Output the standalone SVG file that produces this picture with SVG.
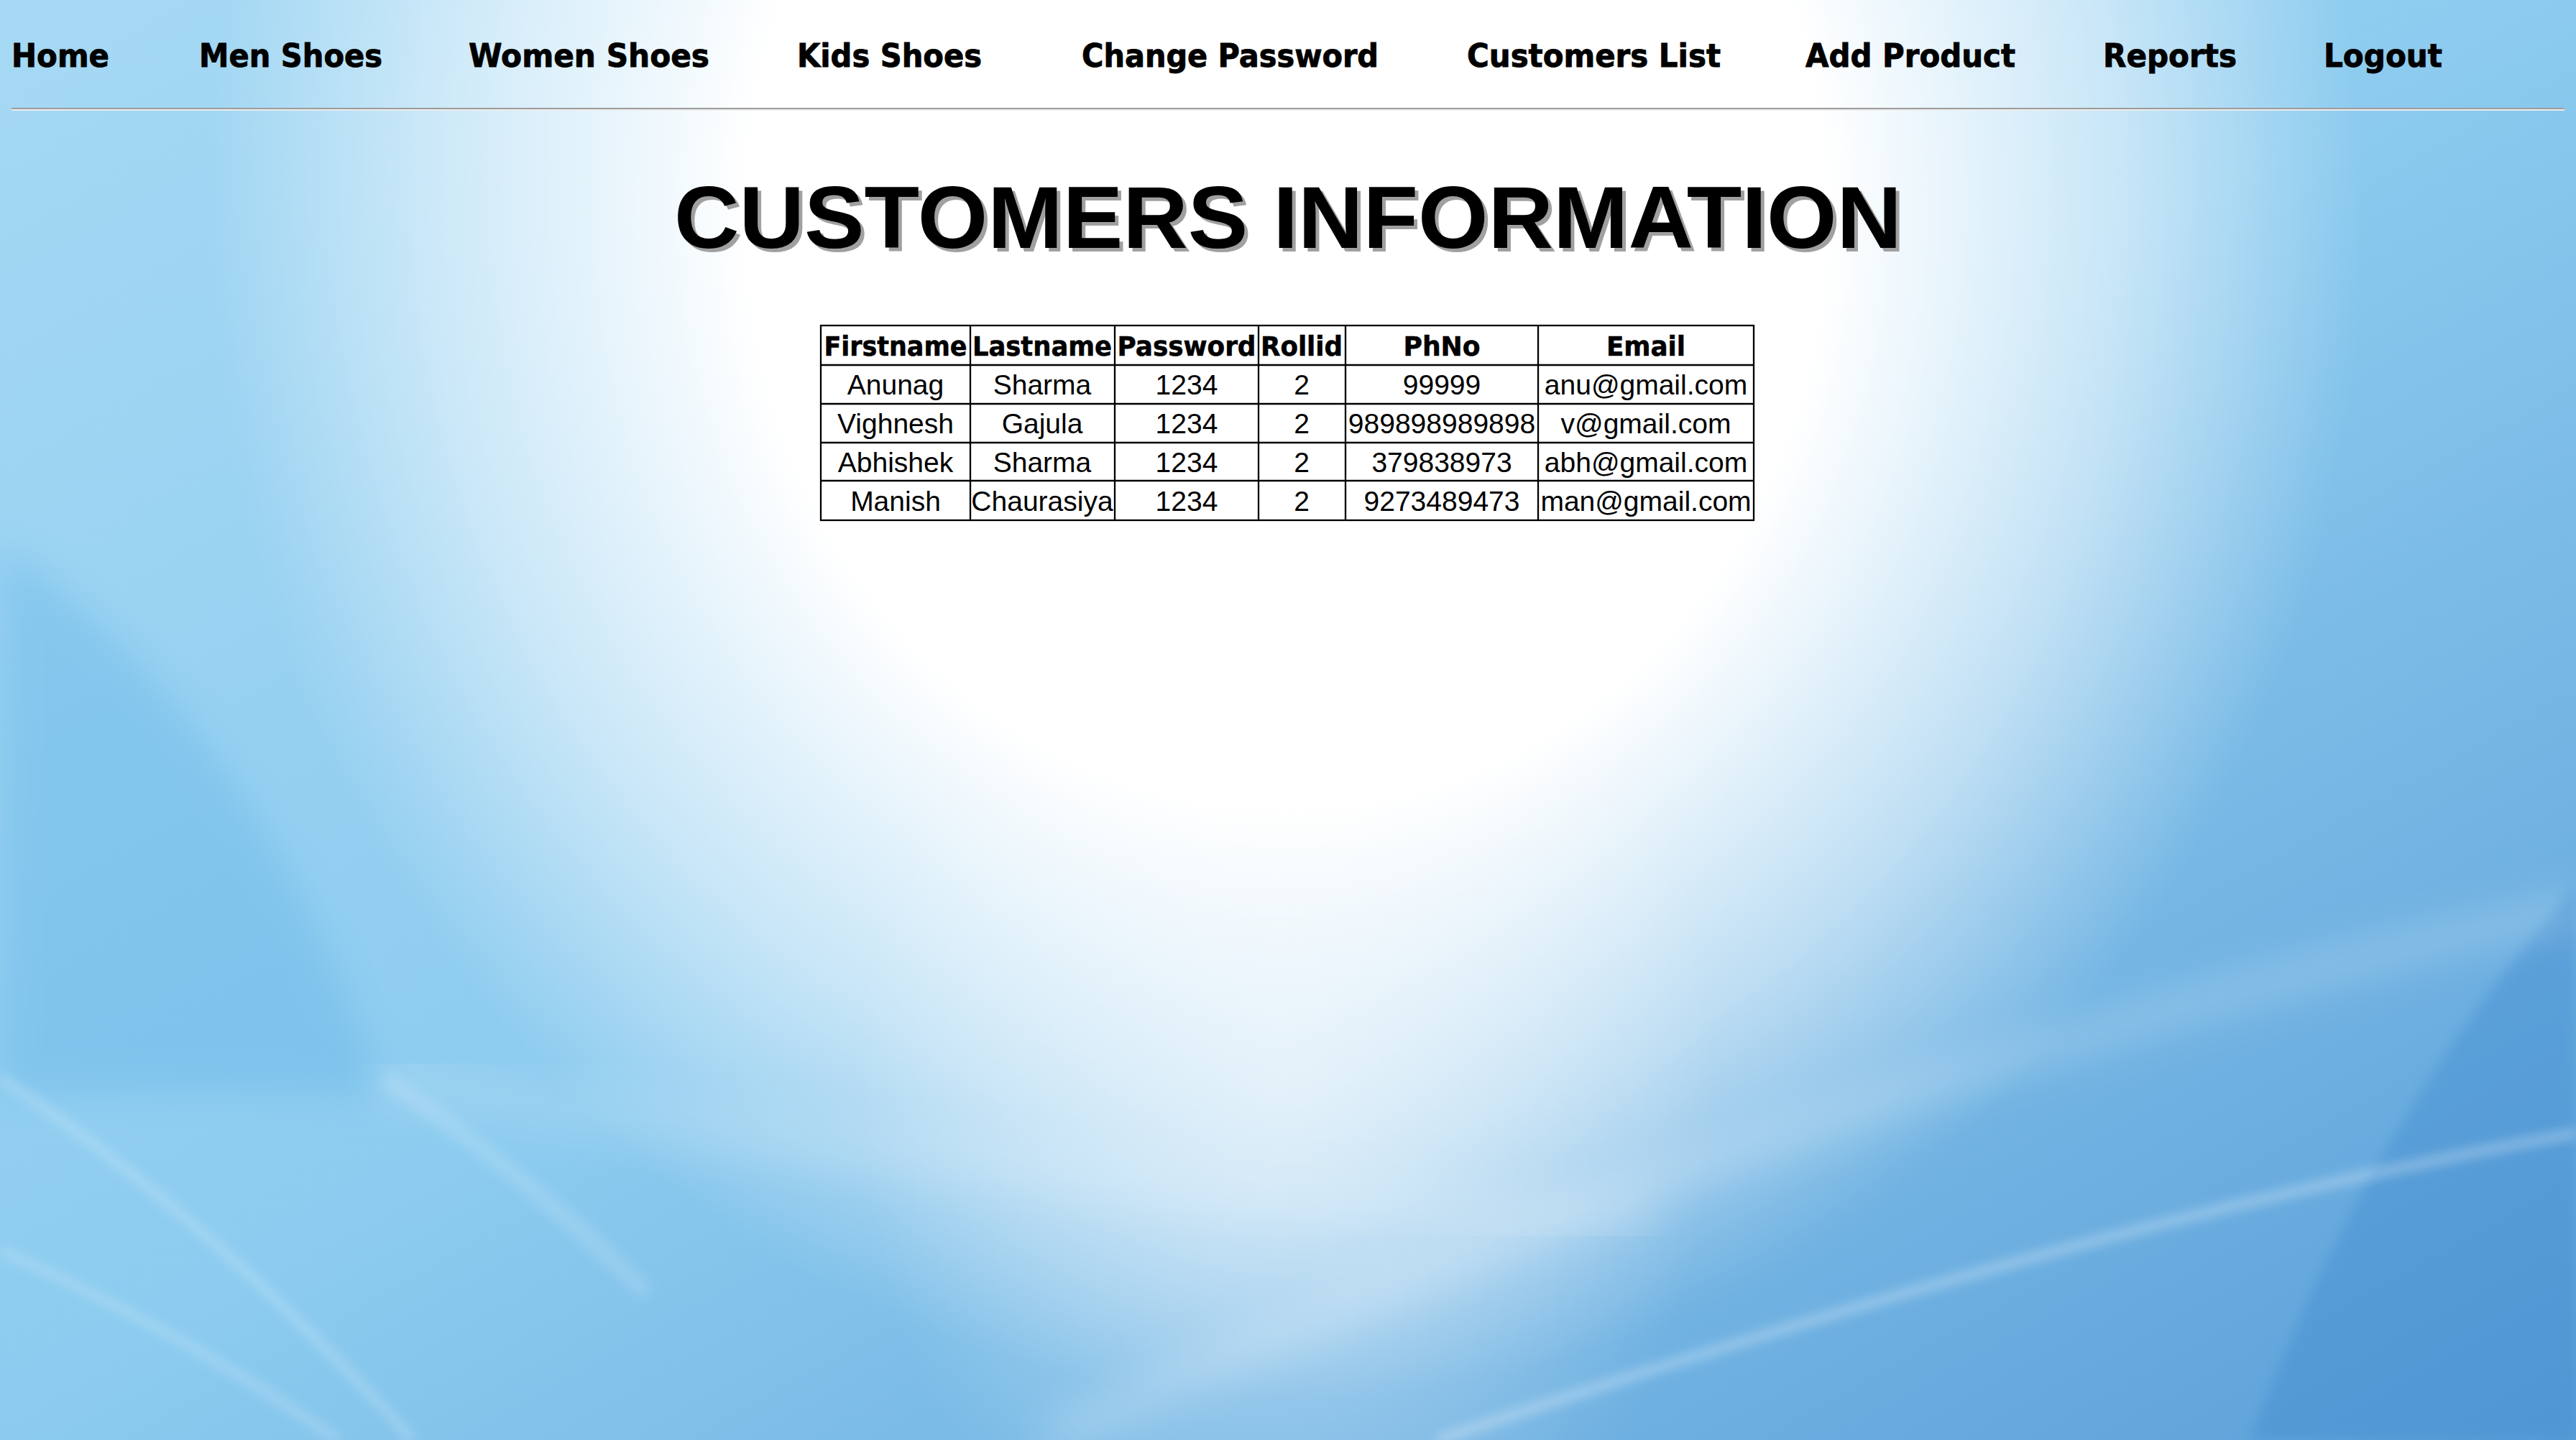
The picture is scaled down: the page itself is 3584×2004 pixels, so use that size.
<svg xmlns="http://www.w3.org/2000/svg" width="3584" height="2004" viewBox="0 0 3584 2004">
<defs>
<linearGradient id="base" x1="0" y1="0" x2="1" y2="1">
<stop offset="0" stop-color="#a6d9f4"/>
<stop offset="0.5" stop-color="#8ccbef"/>
<stop offset="1" stop-color="#5b9fd8"/>
</linearGradient>
<radialGradient id="glow" gradientUnits="userSpaceOnUse" cx="1790" cy="300" r="1500" gradientTransform="translate(1790 300) scale(1 1.1) translate(-1790 -300)">
<stop offset="0" stop-color="#ffffff" stop-opacity="1"/>
<stop offset="0.5" stop-color="#ffffff" stop-opacity="1"/>
<stop offset="0.78" stop-color="#ffffff" stop-opacity="0.5"/>
<stop offset="1" stop-color="#ffffff" stop-opacity="0"/>
</radialGradient>
<radialGradient id="glow2" gradientUnits="userSpaceOnUse" cx="1790" cy="1500" r="800" gradientTransform="translate(1790 1500) scale(0.75 1) translate(-1790 -1500)">
<stop offset="0" stop-color="#ffffff" stop-opacity="0.5"/>
<stop offset="1" stop-color="#ffffff" stop-opacity="0"/>
</radialGradient>
<filter id="soft" x="-10%" y="-10%" width="120%" height="120%">
<feGaussianBlur stdDeviation="8"/>
</filter>
<filter id="soft2" x="-10%" y="-10%" width="120%" height="120%">
<feGaussianBlur stdDeviation="25"/>
</filter>
</defs>
<style>
.nav{font-family:"DejaVu Sans","Liberation Sans",sans-serif;font-weight:bold;font-size:45px;fill:#000;stroke:#000;stroke-width:0.9}
.th{font-family:"DejaVu Sans","Liberation Sans",sans-serif;font-weight:bold;font-size:37px;fill:#000;text-anchor:middle;stroke:#000;stroke-width:0.6}
.td{font-family:"Liberation Sans","DejaVu Sans",sans-serif;font-size:39px;fill:#000;text-anchor:middle}
.title{font-family:"Liberation Sans","Arial",sans-serif;font-weight:bold;font-size:123px;text-anchor:middle}
.grid{stroke:#000;stroke-width:2.3;fill:none}
</style>

<g id="background">
<rect x="0" y="0" width="3584" height="2004" fill="url(#base)"/>
<path d="M0,760 Q360,1000 530,1520 L0,1520 Z" fill="#4aa6e2" opacity="0.25" filter="url(#soft2)"/>
<path d="M3584,1234 Q3300,1550 3131,2004 L3584,2004 Z" fill="#3a86cc" opacity="0.35" filter="url(#soft)"/>
<rect x="0" y="0" width="3584" height="2004" fill="url(#glow)"/>
<rect x="0" y="0" width="3584" height="2004" fill="url(#glow2)"/>
<path d="M0,1500 Q300,1700 574,2004" stroke="#ffffff" stroke-opacity="0.28" stroke-width="10" fill="none" filter="url(#soft)"/>
<path d="M0,1740 Q250,1850 470,2004" stroke="#ffffff" stroke-opacity="0.25" stroke-width="10" fill="none" filter="url(#soft)"/>
<path d="M534,1500 Q740,1640 900,1800" stroke="#ffffff" stroke-opacity="0.14" stroke-width="24" fill="none" filter="url(#soft)"/>
<path d="M3584,1577 Q2900,1700 2000,2004" stroke="#ffffff" stroke-opacity="0.35" stroke-width="12" fill="none" filter="url(#soft)"/>
<path d="M3584,1265 Q2500,1500 1460,2004" stroke="#ffffff" stroke-opacity="0.16" stroke-width="60" fill="none" filter="url(#soft2)"/>
<path d="M520,1500 Q1400,1640 2300,1700" stroke="#ffffff" stroke-opacity="0.1" stroke-width="80" fill="none" filter="url(#soft2)"/>
</g>

<g id="nav">
<text class="nav" x="16" y="93" textLength="136" lengthAdjust="spacingAndGlyphs">Home</text>
<text class="nav" x="277" y="93" textLength="255" lengthAdjust="spacingAndGlyphs">Men Shoes</text>
<text class="nav" x="652" y="93" textLength="335" lengthAdjust="spacingAndGlyphs">Women Shoes</text>
<text class="nav" x="1109" y="93" textLength="257" lengthAdjust="spacingAndGlyphs">Kids Shoes</text>
<text class="nav" x="1505" y="93" textLength="413" lengthAdjust="spacingAndGlyphs">Change Password</text>
<text class="nav" x="2041" y="93" textLength="353" lengthAdjust="spacingAndGlyphs">Customers List</text>
<text class="nav" x="2512" y="93" textLength="292" lengthAdjust="spacingAndGlyphs">Add Product</text>
<text class="nav" x="2926" y="93" textLength="186" lengthAdjust="spacingAndGlyphs">Reports</text>
<text class="nav" x="3233" y="93" textLength="165" lengthAdjust="spacingAndGlyphs">Logout</text>
<rect x="16" y="150" width="3552" height="2" fill="#9c9c9c"/>
<rect x="16" y="152" width="3552" height="2" fill="#ececec"/>
</g>

<g id="title">
<text class="title" x="1797" y="350" fill="#a0a0a0" textLength="1708" lengthAdjust="spacingAndGlyphs">CUSTOMERS INFORMATION</text>
<text class="title" x="1792" y="345" fill="#000000" textLength="1708" lengthAdjust="spacingAndGlyphs">CUSTOMERS INFORMATION</text>
</g>

<g id="table">
<rect x="1142" y="453" width="1298" height="271" fill="#ffffff"/>
<g class="grid">
<rect x="1142" y="453" width="1298" height="271"/>
<line x1="1142" y1="508" x2="2440" y2="508"/>
<line x1="1142" y1="562" x2="2440" y2="562"/>
<line x1="1142" y1="616" x2="2440" y2="616"/>
<line x1="1142" y1="669" x2="2440" y2="669"/>
<line x1="1350" y1="453" x2="1350" y2="724"/>
<line x1="1551" y1="453" x2="1551" y2="724"/>
<line x1="1751" y1="453" x2="1751" y2="724"/>
<line x1="1872" y1="453" x2="1872" y2="724"/>
<line x1="2140" y1="453" x2="2140" y2="724"/>
</g>
<g id="row-header">
<text class="th" x="1246" y="495" textLength="199" lengthAdjust="spacingAndGlyphs">Firstname</text>
<text class="th" x="1450" y="495" textLength="194" lengthAdjust="spacingAndGlyphs">Lastname</text>
<text class="th" x="1651" y="495" textLength="193" lengthAdjust="spacingAndGlyphs">Password</text>
<text class="th" x="1811" y="495" textLength="114" lengthAdjust="spacingAndGlyphs">Rollid</text>
<text class="th" x="2006" y="495" textLength="107" lengthAdjust="spacingAndGlyphs">PhNo</text>
<text class="th" x="2290" y="495" textLength="110" lengthAdjust="spacingAndGlyphs">Email</text>
</g>
<g id="row-1">
<text class="td" x="1246" y="549">Anunag</text>
<text class="td" x="1450" y="549">Sharma</text>
<text class="td" x="1651" y="549">1234</text>
<text class="td" x="1811" y="549">2</text>
<text class="td" x="2006" y="549">99999</text>
<text class="td" x="2290" y="549">anu@gmail.com</text>
</g>
<g id="row-2">
<text class="td" x="1246" y="603">Vighnesh</text>
<text class="td" x="1450" y="603">Gajula</text>
<text class="td" x="1651" y="603">1234</text>
<text class="td" x="1811" y="603">2</text>
<text class="td" x="2006" y="603">989898989898</text>
<text class="td" x="2290" y="603">v@gmail.com</text>
</g>
<g id="row-3">
<text class="td" x="1246" y="657">Abhishek</text>
<text class="td" x="1450" y="657">Sharma</text>
<text class="td" x="1651" y="657">1234</text>
<text class="td" x="1811" y="657">2</text>
<text class="td" x="2006" y="657">379838973</text>
<text class="td" x="2290" y="657">abh@gmail.com</text>
</g>
<g id="row-4">
<text class="td" x="1246" y="711">Manish</text>
<text class="td" x="1450" y="711">Chaurasiya</text>
<text class="td" x="1651" y="711">1234</text>
<text class="td" x="1811" y="711">2</text>
<text class="td" x="2006" y="711">9273489473</text>
<text class="td" x="2290" y="711">man@gmail.com</text>
</g>
</g>
</svg>
